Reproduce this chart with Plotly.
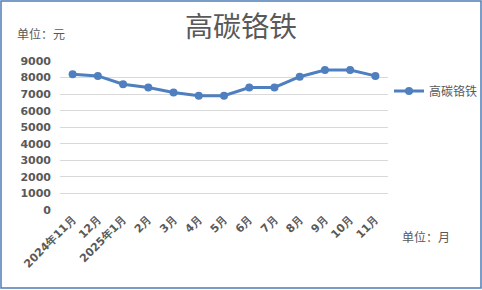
import plotly.graph_objects as go

categories = ["2024年11月", "12月", "2025年1月", "2月", "3月", "4月", "5月",
              "6月", "7月", "8月", "9月", "10月", "11月"]
values = [8200, 8100, 7600, 7400, 7100, 6900, 6900, 7400, 7400, 8050, 8450, 8450, 8100]
series_name = "高碳铬铁"
y_ticks = [0, 1000, 2000, 3000, 4000, 5000, 6000, 7000, 8000, 9000]

W, H = 482, 290
ml, mr, mt, mb = 60, 94, 61, 80
pw, ph = W - ml - mr, H - mt - mb

line_color = "#4F7FBF"
text_grey = "#595959"

fig = go.Figure()
fig.add_trace(go.Scatter(
    x=list(range(len(categories))), y=values, mode="lines+markers",
    name=series_name,
    line=dict(color=line_color, width=3),
    marker=dict(color=line_color, size=8),
))

fig.update_layout(
    width=W, height=H,
    margin=dict(l=ml, r=mr, t=mt, b=mb, pad=0, autoexpand=False),
    paper_bgcolor="white", plot_bgcolor="white",
    showlegend=True,
    legend=dict(x=(389 - ml) / pw, y=1 - (91 - mt) / ph, xanchor="left", yanchor="middle",
                font=dict(family="Noto Sans CJK SC", size=12, color=text_grey),
                bgcolor="rgba(0,0,0,0)", itemwidth=30),
    title=dict(text=series_name, x=0.5, xanchor="center", y=1 - 27 / H, yanchor="middle",
               font=dict(family="Noto Sans CJK SC", size=28, color=text_grey)),
    xaxis=dict(
        tickmode="array", tickvals=list(range(len(categories))), ticktext=categories,
        range=[-0.5, len(categories) - 0.5], tickangle=-45,
        showgrid=False, zeroline=False, showline=False, ticks="",
        tickfont=dict(family="DejaVu Sans", size=11, color=text_grey, weight="bold"),
    ),
    yaxis=dict(
        range=[0, 9000], tickmode="array", tickvals=y_ticks,
        showgrid=True, gridcolor="#D9D9D9", gridwidth=1, zeroline=False, showline=False,
        ticks="", ticklabelstandoff=8,
        tickfont=dict(family="DejaVu Sans", size=11, color=text_grey, weight="bold"),
    ),
)

fig.add_annotation(text="单位：元", xref="paper", yref="paper",
                   x=(15 - ml) / pw, y=1 + (mt - 33) / ph, xanchor="left", yanchor="middle",
                   showarrow=False, font=dict(family="Noto Sans CJK SC", size=12, color=text_grey))
fig.add_annotation(text="单位：月", xref="paper", yref="paper",
                   x=(400 - ml) / pw, y=-(236 - mt - ph) / ph, xanchor="left", yanchor="middle",
                   showarrow=False, font=dict(family="Noto Sans CJK SC", size=12, color=text_grey))

# outer frame
fig.add_shape(type="rect", xref="paper", yref="paper",
              x0=(1 - ml) / pw, x1=(481 - ml) / pw,
              y0=1 - (288 - mt) / ph, y1=1 - (1 - mt) / ph,
              line=dict(color="#4F7CB6", width=1.5), fillcolor="rgba(0,0,0,0)", layer="below")

fig.write_html("out.html")
